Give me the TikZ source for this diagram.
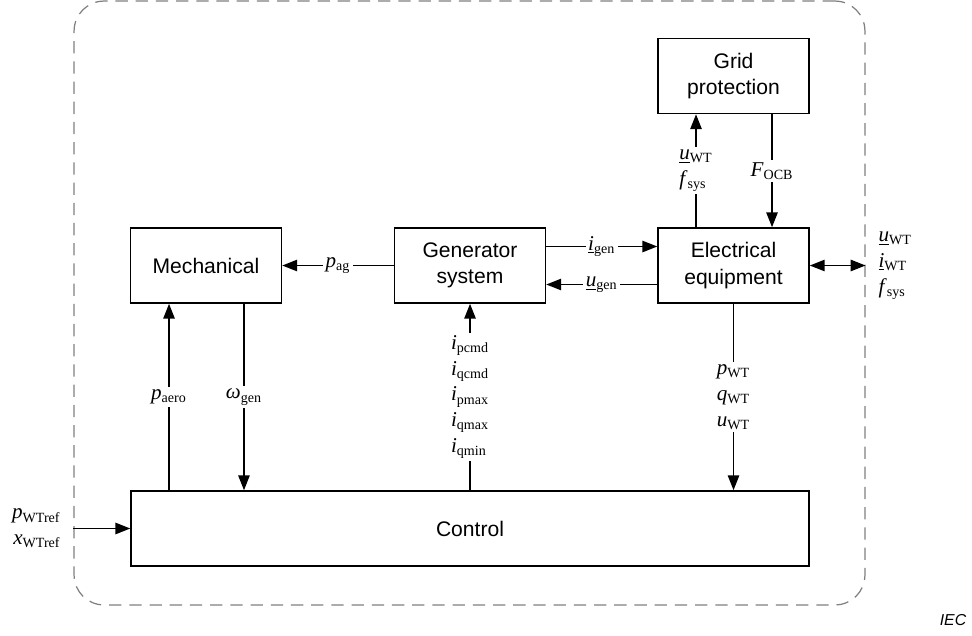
\documentclass[tikz,border=0pt]{standalone}
\usepackage{fontspec}
\setmainfont{Liberation Serif}
\setsansfont{Liberation Sans}
\usepackage{tikz}
\usetikzlibrary{
    calc,
    positioning,
    arrows.meta
}
\newcommand{\sym}[2]{\textit{#1}\textsubscript{#2}}
\newcommand{\phs}[2]{\underline{\textit{#1}}\textsubscript{#2}}

\begin{document}
\begin{tikzpicture}[
    x=0.02cm, y=-0.02cm,
    font=\sffamily\fontsize{12}{15}\selectfont,
    box/.style={
    	draw,
    	line width=0.9pt,
    	minimum width=3.02cm,
    	minimum height=1.5cm,
    	inner sep=2pt, align=center
    }, lbl/.style={
    	font=\rmfamily\fontsize{12}{14.7}\selectfont,
    	fill=white, inner sep=1.5pt, align=center
    }, pil/.style={
    	-{Triangle[length=8.5pt,width=6.5pt]},
    	line width=0.9pt
    }]
    \definecolor{my-gray}{RGB}{128, 128, 128}

    \useasboundingbox (0,0) rectangle (972,635);

    \node[draw=my-gray, line width=0.7pt, dash pattern=on 7pt off 4.5pt,
    	rounded corners=0.6cm, minimum width=15.82cm, minimum height=12.08cm] (wt) at (469.5,303) {};

    %%% BLOCKS
    \node[box] (mech) at (206,265.5) {Mechanical};
    \node[box] (gen) at (470,265.5) {Generator\\system};
    \node[box] (ee) at (733.5,265.5) {Electrical\\equipment};
    \node[box] (grid) at (733.5,76) {Grid\\protection};
    \node[box, minimum width=13.56cm] (control) at (470,528.5) {Control};

    \node[lbl, fill=none, anchor=west, align=left] (gridsig) at ([xshift=0.2cm]ee -| wt.east) {\phs{u}{WT}\\\phs{i}{WT}\\\sym{f}{sys}};
    \node[lbl, fill=none, anchor=east, align=right] (refsig) at ([xshift=-0.2cm]control -| wt.west) {\sym{p}{WTref}\\\sym{x}{WTref}};

    \node[font=\sffamily\itshape\fontsize{9}{10}\selectfont] (iec) at (953,620) {IEC};
    %%% BLOCKS

    %%% EDGES
    \coordinate (paero) at ([xshift=-0.74cm]mech.south);
    \coordinate (wgen) at ([xshift=0.76cm]mech.south);

    \draw[pil] (gen) -- node[lbl] {\sym{p}{ag}} (mech);
    \draw[pil] ([yshift=0.38cm]gen.east) -- node[lbl] {\phs{i}{gen}} ([yshift=0.38cm]gen.east -| ee.west);
    \draw[pil] ([yshift=-0.38cm]ee.west) -- node[lbl] {\phs{u}{gen}} ([yshift=-0.38cm]ee.west -| gen.east);

    \draw[pil] (control.north -| paero) -- node[lbl] {\sym{p}{aero}} (paero);
    \draw[pil] (wgen) -- node[lbl] {\sym{ω}{gen}} (control.north -| wgen);
    \draw[pil] (control.north -| gen.south) -- node[lbl, align=left] {\sym{i}{pcmd}\\\sym{i}{qcmd}\\\sym{i}{pmax}\\\sym{i}{qmax}\\\sym{i}{qmin}} (gen.south);
    \draw[pil] (ee.south) -- node[lbl] {\sym{p}{WT}\\\sym{q}{WT}\\\sym{u}{WT}} (control.north -| ee.south);

    \draw[pil] ([xshift=-0.75cm]ee.north) -- node[lbl, align=left] {\phs{u}{WT}\\\sym{f}{sys}} ([xshift=-0.75cm]grid.south);
    \draw[pil] ([xshift=0.77cm]grid.south) -- node[lbl] {\sym{F}{OCB}} ([xshift=0.77cm]ee.north);

    \draw[{Triangle[length=8.5pt,width=6.5pt]}-{Triangle[length=8.5pt,width=6.5pt]}, line width=0.9pt] (ee) -- (ee -| wt.east);
    \draw[pil] (control -| wt.west) -- (control);
    %%% EDGES

\end{tikzpicture}
\end{document}
